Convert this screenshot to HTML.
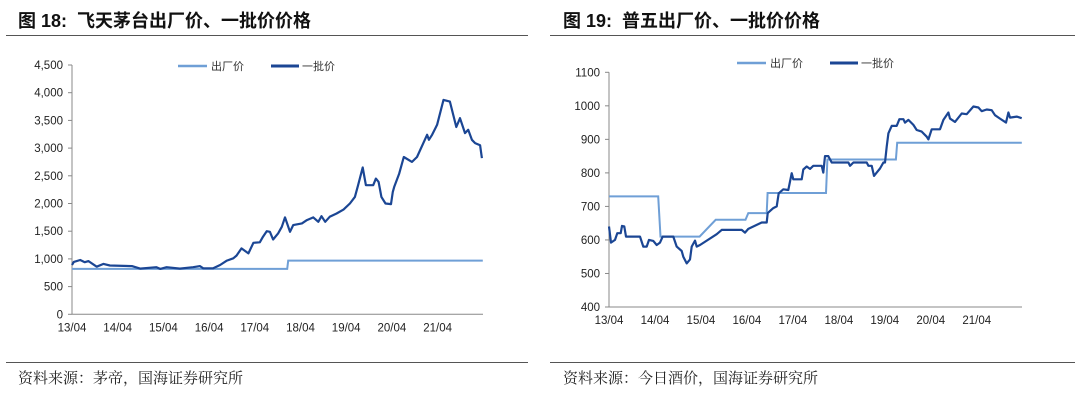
<!DOCTYPE html>
<html><head><meta charset="utf-8">
<style>
body{margin:0;background:#fff;width:1080px;height:402px;overflow:hidden;position:relative;font-family:"Liberation Sans","Noto Sans CJK SC",sans-serif}
.title{position:absolute;top:7px;font-size:18px;font-weight:bold;color:#111;font-family:"Liberation Sans","Noto Sans CJK SC",sans-serif}
.src{position:absolute;top:367px;font-size:15px;color:#222;font-family:"Liberation Serif","Noto Serif CJK SC",serif}
.rule{position:absolute;height:1px;background:#555}
</style></head>
<body>
<div class="title" style="left:18px">图 18:&nbsp; 飞天茅台出厂价、一批价价格</div>
<div class="title" style="left:563px">图 19:&nbsp; 普五出厂价、一批价价格</div>
<div class="rule" style="left:6px;top:35px;width:522px"></div>
<div class="rule" style="left:550px;top:35px;width:525px"></div>
<div class="rule" style="left:6px;top:362px;width:522px"></div>
<div class="rule" style="left:550px;top:362px;width:525px"></div>
<div class="src" style="left:18px">资料来源：茅帝，国海证券研究所</div>
<div class="src" style="left:563px">资料来源：今日酒价，国海证券研究所</div>
<svg id="svg" width="1080" height="402" style="position:absolute;left:0;top:0"></svg>
<script>
const xLabels=["13/04","14/04","15/04","16/04","17/04","18/04","19/04","20/04","21/04"];
// chart 1 (Moutai): t = years since 13/04
const c1Ticks=[0,500,1000,1500,2000,2500,3000,3500,4000,4500];
const c1TickLabels=["0","500","1,000","1,500","2,000","2,500","3,000","3,500","4,000","4,500"];
const c1FactoryT=[0,4.71,4.73,8.99];
const c1FactoryV=[820,820,969,969];
const c1WholeT=[0,0.04,0.18,0.28,0.36,0.54,0.69,0.83,1.31,1.49,1.85,1.93,2.07,2.36,2.65,2.80,2.87,3.09,3.24,3.39,3.53,3.60,3.71,3.86,3.97,4.11,4.18,4.26,4.33,4.40,4.51,4.59,4.66,4.77,4.84,5.03,5.14,5.28,5.39,5.46,5.54,5.64,5.79,5.94,6.08,6.19,6.26,6.36,6.43,6.59,6.65,6.71,6.77,6.86,6.98,7.02,7.05,7.16,7.26,7.44,7.55,7.77,7.81,7.88,7.99,8.13,8.27,8.41,8.49,8.60,8.67,8.75,8.82,8.93,8.97];
const c1WholeV=[890,945,980,940,960,860,910,880,870,825,850,820,850,825,850,870,830,830,890,970,1010,1060,1190,1100,1290,1300,1400,1500,1490,1350,1460,1580,1750,1490,1610,1640,1700,1750,1670,1770,1670,1760,1820,1890,2000,2120,2330,2650,2330,2330,2450,2390,2120,2000,1990,2210,2300,2540,2840,2750,2840,3240,3150,3240,3420,3870,3840,3380,3540,3270,3330,3150,3090,3050,2820];
// chart 2 (Wuliangye)
const c2Ticks=[400,500,600,700,800,900,1000,1100];
const c2TickLabels=["400","500","600","700","800","900","1000","1100"];
const c2FactoryT=[0,1.07,1.12,1.97,2.32,2.97,3.03,3.43,3.45,4.72,4.75,6.24,6.27,8.98];
const c2FactoryV=[730,730,610,610,660,660,680,680,740,740,840,840,890,890];
const c2WholeX=[207,213,225,232,242,246,253,258,300,310,320,327,340,350,360,368,400,410,425,430,440,450,455,465,470,480,530,545,605,615,625,650,665,680,683,700,710,716,730,745,755,760,785,790,800,810,820,845,850,855,865,875,925,930,940,980,985,995,1002,1010,1020,1030,1035,1040,1045,1055,1070,1078,1090,1095,1105,1120,1130,1145,1160,1165,1175,1200,1210,1225,1230,1245,1265,1280,1300,1315,1325,1340,1355,1365,1380,1398,1405,1410,1430,1445];
const c2WholeV=[640,592,600,620,620,642,640,610,610,580,580,600,597,585,592,610,610,580,567,550,530,542,580,598,580,585,617,630,630,622,633,645,652,652,680,695,700,739,751,749,799,781,781,810,819,812,821,821,801,850,850,831,831,821,831,831,821,821,791,801,813,831,831,878,918,940,940,960,960,950,958,943,928,923,908,900,930,930,958,980,962,952,977,975,998,995,984,989,987,972,962,950,980,965,968,963];
const c2WholeT=c2WholeX.map(x=>(x-207)/137.9);

const svg=document.getElementById('svg');
const NS='http://www.w3.org/2000/svg';
function mk(tag,attrs,name){const e=document.createElementNS(NS,tag);for(const k in attrs)e.setAttribute(k,attrs[k]);


svg.appendChild(e);return e;}
const LIGHT='#6f9fd6',DARK='#1b4694';
function chart(p){
  const xs=t=>p.x0+t*p.yearW, ys=v=>p.y0-(v-p.vmin)/(p.vmax-p.vmin)*(p.y0-p.y1);
  mk('line',{x1:p.x0,y1:p.y1,x2:p.x0,y2:p.y0,stroke:'#888','stroke-width':1},p.id+'-y-axis');
  mk('line',{x1:p.x0,y1:p.y0,x2:p.xEnd,y2:p.y0,stroke:'#888','stroke-width':1},p.id+'-x-axis');
  p.ticks.forEach((v,i)=>{
    mk('line',{x1:p.x0-4,y1:ys(v),x2:p.x0,y2:ys(v),stroke:'#888'},p.id+'-y-tick');
    const t=mk('text',{x:p.x0-9,y:ys(v)+4,'text-anchor':'end','font-size':11.5,fill:'#222','font-family':'Liberation Sans, sans-serif'},p.id+'-y-tick-label');
    t.textContent=p.tickLabels[i];
  });
  xLabels.forEach((l,i)=>{
    const t=mk('text',{x:xs(i),y:p.y0+17,'text-anchor':'middle','font-size':11.5,fill:'#222','font-family':'Liberation Sans, sans-serif'},p.id+'-x-tick-label');
    t.textContent=l;
  });
  const path=(T,V)=>T.map((t,i)=>(i?'L':'M')+xs(t).toFixed(1)+','+ys(V[i]).toFixed(1)).join('');
  mk('path',{d:path(p.fT,p.fV),fill:'none',stroke:LIGHT,'stroke-width':2},p.id+'-factory-price-line');
  mk('path',{d:path(p.wT,p.wV),fill:'none',stroke:DARK,'stroke-width':2.2,'stroke-linejoin':'round'},p.id+'-wholesale-price-line');
  mk('line',{x1:p.lx,y1:p.ly,x2:p.lx+29,y2:p.ly,stroke:LIGHT,'stroke-width':2.5},p.id+'-legend-factory-swatch');
  let t=mk('text',{x:p.lx+33,y:p.ly+4,'font-size':11,fill:'#333','font-family':'Noto Sans CJK SC, sans-serif'},p.id+'-legend-factory-label');t.textContent='出厂价';
  mk('line',{x1:p.lx+93,y1:p.ly,x2:p.lx+121,y2:p.ly,stroke:DARK,'stroke-width':3},p.id+'-legend-wholesale-swatch');
  t=mk('text',{x:p.lx+124,y:p.ly+4,'font-size':11,fill:'#333','font-family':'Noto Sans CJK SC, sans-serif'},p.id+'-legend-wholesale-label');t.textContent='一批价';
}
chart({id:'chart18',x0:72,yearW:45.7,xEnd:483,y0:314.3,y1:65,vmin:0,vmax:4500,ticks:c1Ticks,tickLabels:c1TickLabels,fT:c1FactoryT,fV:c1FactoryV,wT:c1WholeT,wV:c1WholeV,lx:178,ly:66});
chart({id:'chart19',x0:609,yearW:45.97,xEnd:1022,y0:307,y1:72.3,vmin:400,vmax:1100,ticks:c2Ticks,tickLabels:c2TickLabels,fT:c2FactoryT,fV:c2FactoryV,wT:c2WholeT,wV:c2WholeV,lx:737,ly:63});
</script>
</body></html>
